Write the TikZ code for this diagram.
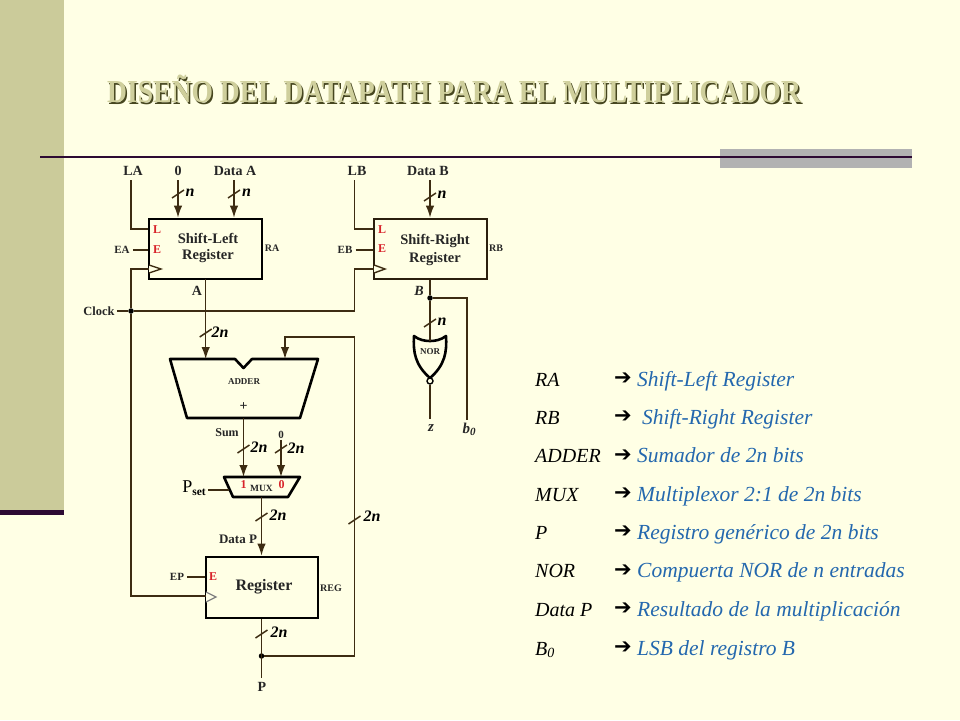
\documentclass[tikz,border=0pt]{standalone}
\usepackage{fontspec}
\setmainfont{Liberation Serif}
\newfontfamily\arrowfont{DejaVu Sans}
\newfontfamily\titlefont[FakeStretch=0.863]{Liberation Serif}
\usetikzlibrary{arrows.meta,calc}
\definecolor{bgc}{HTML}{FFFFE5}
\definecolor{sidec}{HTML}{CBCB9A}
\definecolor{darkc}{HTML}{2D0A33}
\definecolor{grayc}{HTML}{B2B2B2}
\definecolor{wirec}{HTML}{3D2C12}
\definecolor{redc}{HTML}{D8232A}
\definecolor{bluec}{HTML}{2468AE}
\definecolor{titleface}{HTML}{CFCF9C}
\definecolor{titleshade}{HTML}{46461F}
\newcommand{\fsz}[1]{\fontsize{#1}{#1}\selectfont}
\newcommand{\busmark}[1]{\draw[wire] ($(#1)+(-6,4)$) -- ($(#1)+(6,-4)$);}
\tikzset{
  wire/.style={draw=wirec,line width=1.5pt},
  arr/.style={wire,-{Latex[length=12pt,width=8.5pt]}},
  box/.style={draw=black,line width=2.7pt,inner sep=0pt},
  boxtext/.style={inner sep=0pt,align=center,font=\bfseries\fsz{14.5},text=black!85},
  gate/.style={draw=black,line width=2.6pt,line join=round},
  lab/.style={inner sep=0pt,font=\bfseries\fsz{14},text=black!85,minimum height=18pt},
  small/.style={inner sep=0pt,font=\bfseries\fsz{11},text=black!85},
  pin/.style={inner sep=0pt,font=\bfseries\fsz{12},text=redc},
  wd/.style={inner sep=0pt,font=\bfseries\itshape\fsz{16},text=black},
  dot/.style={circle,fill=black,inner sep=0pt,minimum size=5.5pt},
  clk/.style={draw=wirec,line width=1.4pt,fill=bgc},
  keytext/.style={anchor=west,inner sep=0pt,font=\itshape\fsz{20},text=black,text height=15pt,text depth=3pt},
  keyval/.style={anchor=west,inner sep=0pt,font=\itshape\fsz{21.5},text=bluec,text height=15pt,text depth=3pt},
  keyarr/.style={anchor=west,inner sep=0pt,font=\arrowfont\bfseries\fsz{21},text=black},
  titlef/.style={anchor=west,inner sep=0pt,font=\titlefont\bfseries\fsz{32}},
}
\begin{document}
\begin{tikzpicture}[x=1pt,y=-1pt]
\useasboundingbox (0,0) rectangle (960,720);
\fill[bgc] (0,0) rectangle (960,720);
\fill[sidec] (0,0) rectangle (64,510);
\fill[darkc] (0,510) rectangle (64,515);
\fill[grayc] (720,149) rectangle (912,168);
\fill[darkc] (40,156) rectangle (912,158);
% title
\node[titlef,text=titleshade] (titleS) at (108.5,90.5) {DISEÑO DEL DATAPATH PARA EL MULTIPLICADOR};
\node[titlef,text=titleface] (titleF) at (107,89) {DISEÑO DEL DATAPATH PARA EL MULTIPLICADOR};
% registers
\node[box,minimum width=113pt,minimum height=60pt] (regA) at (205.5,249) {};
\node[box,minimum width=113pt,minimum height=60pt,draw=wirec!70!black] (regB) at (430.5,249) {};
\node[box,minimum width=112pt,minimum height=61pt] (regP) at (262,587.5) {};
\node[boxtext] (tA) at (208,248) {Shift-Left\\[1pt]Register};
\node[boxtext] (tB) at (435,250) {Shift-Right\\[3pt]Register};
\node[boxtext,font=\bfseries\fsz{16}] (tP) at (264,587) {Register};
% adder, mux, nor
\coordinate (addIn1) at (205.7,359);
\coordinate (addIn2) at (285,359);
\coordinate (addOut) at (243.5,418);
\draw[gate] (170,359) -- (235,359) -- (243.5,368) -- (252,359) -- (318,359) -- (300,418) -- (187,418) -- cycle;
\node[small,font=\bfseries\fsz{9}] (tAdder) at (244,382) {ADDER};
\node[small,font=\bfseries\fsz{14}] (tPlus) at (243.5,407) {+};
\coordinate (muxIn1) at (243.5,477);
\coordinate (muxIn0) at (281,477);
\coordinate (muxOut) at (261.5,497);
\coordinate (muxSel) at (229,490);
\draw[gate] (224,477) -- (300,477) -- (288,497) -- (233,497) -- cycle;
\node[pin,font=\bfseries\fsz{12}] (m1) at (243.5,485) {1};
\node[small,font=\bfseries\fsz{9.5}] (tMux) at (261.5,488) {MUX};
\node[pin,font=\bfseries\fsz{12}] (m0) at (281.5,485) {0};
\coordinate (norIn) at (430,341);
\coordinate (norOut) at (430,378);
\draw[gate] (414,336) .. controls (419,340) and (425,341) .. (430,341) .. controls (435,341) and (441,340) .. (446,336) .. controls (447,352) and (445,365) .. (430,378) .. controls (415,365) and (413,352) .. (414,336) -- cycle;
\node[small,font=\bfseries\fsz{9}] (tNor) at (430,352) {NOR};
\node[circle,draw=black,line width=1.4pt,inner sep=0pt,minimum size=6pt,fill=bgc] (bub) at (430,381) {};
% top labels
\node[lab] (lLA) at (133,171) {LA};
\node[lab] (l0) at (178,171) {0};
\node[lab] (lDA) at (235,171) {Data A};
\node[lab] (lLB) at (357,171) {LB};
\node[lab] (lDB) at (428,171) {Data B};
\coordinate (xLA) at (131,200);
\coordinate (xLB) at (354.3,200);
\coordinate (x0) at (178,200);
\coordinate (xDA) at (234,200);
\coordinate (xDB) at (430,200);
\draw[wire] (lLA.south -| xLA) |- (regA.north west |- 0,229) coordinate (dummyA);
\draw[wire] (lLB.south -| xLB) |- (regB.north west |- 0,229) coordinate (dummyB);
\draw[arr] (l0.south -| x0) -- (regA.north -| x0);
\draw[arr] (lDA.south -| xDA) -- (regA.north -| xDA);
\draw[arr] (lDB.south -| xDB) -- (regB.north -| xDB);
\busmark{178,194}\busmark{234,194}\busmark{430,197}
\node[wd] (n1) at (190,193) {n};
\node[wd] (n2) at (246.5,193) {n};
\node[wd] (n3) at (442,195) {n};
% pin letters
\node[pin] (pL1) at (157,230) {L};
\node[pin] (pE1) at (157,250) {E};
\node[pin] (pL2) at (382,230) {L};
\node[pin] (pE2) at (382,249) {E};
\node[pin] (pE3) at (213,577) {E};
% enables
\node[small] (tEA) at (122,250) {EA};
\node[small] (tEB) at (345,250) {EB};
\node[small] (tEP) at (177,577) {EP};
\draw[wire] (tEA.east)+(3,0) -- (regA.west |- tEA.east);
\draw[wire] (tEB.east)+(3,0) -- (regB.west |- tEB.east);
\draw[wire] (tEP.east)+(3,0) -- (regP.west |- tEP.east);
\node[small,font=\bfseries\fsz{10}] (tRA) at (272,248) {RA};
\node[small,font=\bfseries\fsz{10}] (tRB) at (496,248) {RB};
\node[small,font=\bfseries\fsz{10}] (tREG) at (331,588) {REG};
% clock
\node[small,font=\bfseries\fsz{12.5}] (tClock) at (99,311) {Clock};
\node[dot] (dClock) at (131,311) {};
\coordinate (ckA) at (149,269);
\coordinate (ckB) at (374,269);
\coordinate (ckP) at (206,596);
\coordinate (ckJ) at (354.3,311);
\draw[wire] (tClock.east)+(2,0) -- (dClock) -- (ckJ) |- (ckB);
\draw[wire] (dClock) |- (ckA);
\draw[wire] (dClock) |- (ckP);
\draw[clk] (149,265) -- (161,269) -- (149,273);
\draw[clk] (374,265) -- (385,269) -- (374,273);
\draw[draw=gray,line width=1.2pt,fill=bgc] (206,592) -- (216,597) -- (206,602);
% datapath
\coordinate (aOut) at (205.7,279);
\node[lab] (tAo) at (197,291) {A};
\node[lab,font=\bfseries\itshape\fsz{14}] (tBo) at (419,291) {B};
\draw[arr] (aOut) -- (addIn1);
\busmark{205.7,333}
\node[wd] (n2a) at (220,332) {2n};
\node[dot] (dB) at (430,298) {};
\node[lab,font=\bfseries\itshape\fsz{15}] (lz) at (431,428) {z};
\node[lab,font=\bfseries\itshape\fsz{15}] (lb0) at (469,429) {b\raisebox{-2pt}{\fsz{11}0}};
\coordinate (xb0) at (467,400);
\coordinate (xz) at (430,400);
\draw[wire] (regB.south -| dB) -- (dB);
\draw[wire] (dB) -- (norIn);
\draw[wire] (dB) -| (lb0.north -| xb0);
\draw[wire] (bub) -- (lz.north -| xz);
\busmark{430,323}
\node[wd] (n4) at (442,322) {n};
\node[small,font=\bfseries\fsz{12}] (tSum) at (227,433) {Sum};
\node[small] (t0b) at (281,435) {0};
\draw[arr] (addOut) -- (muxIn1);
\draw[arr] (t0b.south) ++(0,1) -- (muxIn0);
\busmark{243.5,449}\busmark{281,449}
\node[wd] (n5) at (259,447) {2n};
\node[wd] (n6) at (296,448) {2n};
\node[inner sep=0pt,font=\fsz{18}] (tPset) at (194,488) {P\raisebox{-3pt}{\bfseries\fsz{11.5}set}};
\draw[wire] (tPset.east)+(2,2) -- (muxSel);
\draw[arr] (muxOut) -- (regP.north -| muxOut);
\busmark{261.5,517}
\node[wd] (n7) at (278,515) {2n};
\node[small,font=\bfseries\fsz{13}] (tDataP) at (238,539) {Data P};
% output
\node[lab] (lP) at (262,687) {P};
\node[dot] (dP) at (261.5,656) {};
\coordinate (fbTop) at (354.5,337);
\draw[wire] (regP.south -| dP) -- (lP.north -| dP);
\draw[arr] (dP) -| (fbTop) -| (addIn2);
\busmark{261.5,634}
\busmark{354.5,520}
\node[wd] (n8) at (279,632) {2n};
\node[wd] (n9) at (372,516) {2n};
% key
\foreach \nm/\yy/\kk in {a/380/RA,b/418/RB,c/456/ADDER,d/495/MUX,e/533/P,f/571/NOR,g/610/Data P}{
  \node[keytext] (k\nm) at (535,\yy) {\kk};
}
\node[keytext] (kh) at (535,649) {B\raisebox{-2.5pt}{\fsz{14}0}};
\foreach \nm/\yy in {a/379,b/417,c/456,d/494,e/532,f/571,g/609,h/648}{
  \node[keyarr] (ar\nm) at (614,\yy) {➔};
}
\node[keyval] (va) at (637,380) {Shift-Left Register};
\node[keyval] (vb) at (642,418) {Shift-Right Register};
\node[keyval] (vc) at (637,456) {Sumador de 2n bits};
\node[keyval] (vd) at (637,495) {Multiplexor 2:1 de 2n bits};
\node[keyval] (ve) at (637,533) {Registro genérico de 2n bits};
\node[keyval] (vf) at (637,571) {Compuerta NOR de n entradas};
\node[keyval] (vg) at (637,610) {Resultado de la multiplicación};
\node[keyval] (vh) at (637,649) {LSB del registro B};
\end{tikzpicture}
\end{document}
